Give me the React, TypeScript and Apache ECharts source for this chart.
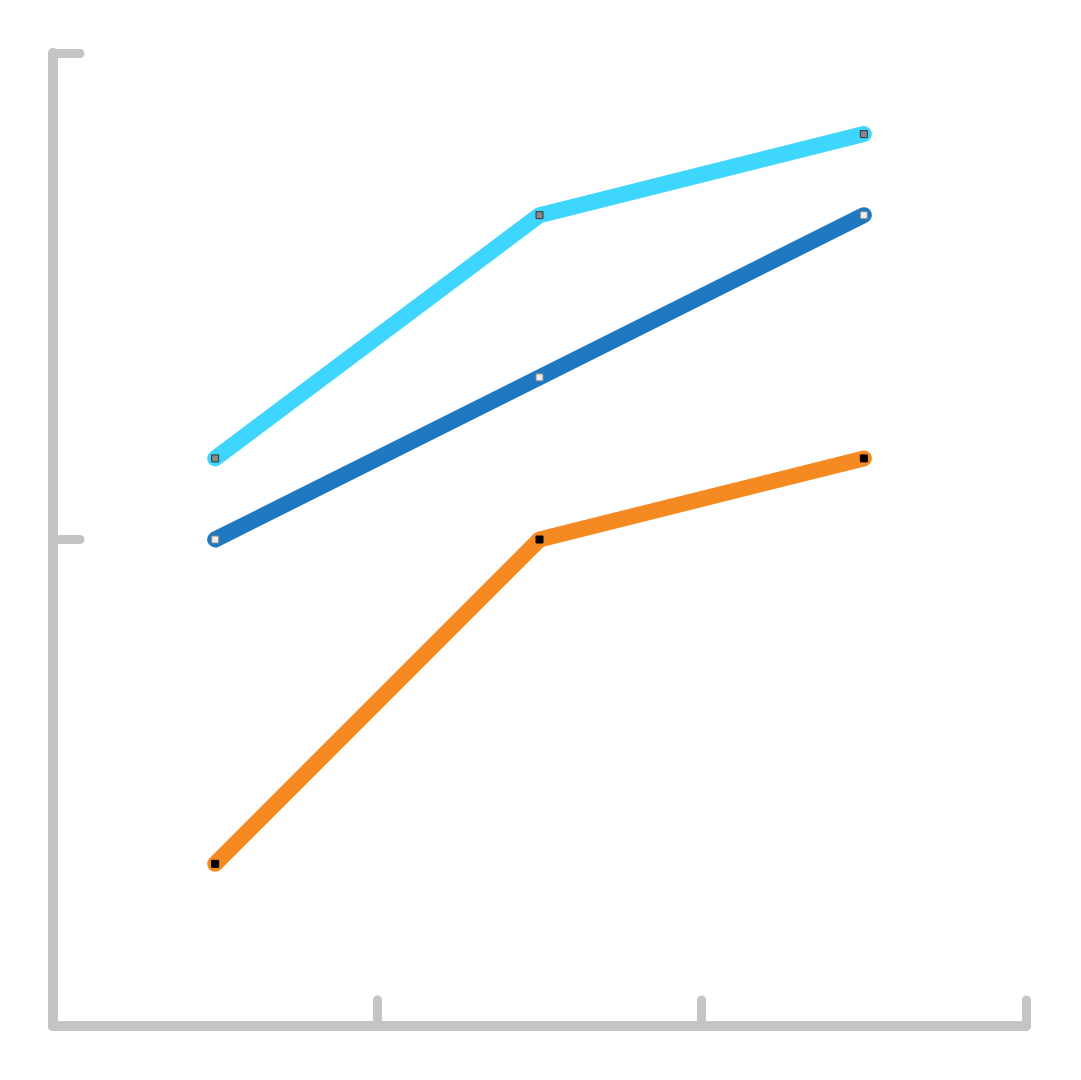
import { useEffect, useRef } from "react";
import * as echarts from "echarts";

const categories = ["A", "B", "C"];
const lightBlueValues = [7, 10, 11];
const darkBlueValues = [6, 8, 10];
const orangeValues = [2, 6, 7];
const yTicks = { min: 0, max: 12, interval: 6 };

const axisGray = "#c4c4c4";

function makeSeries(
  data: number[],
  lineColor: string,
  markFill: string,
  markBorder: string,
) {
  return {
    type: "line",
    data,
    symbol: "rect",
    symbolSize: 7,
    showSymbol: true,
    lineStyle: { color: lineColor, width: 16, cap: "round", join: "round" },
    itemStyle: { color: markFill, borderColor: markBorder, borderWidth: 1 },
    emphasis: { disabled: true },
  };
}

export default function App() {
  const containerRef = useRef<HTMLDivElement | null>(null);

  useEffect(() => {
    const container = containerRef.current;
    if (!container) {
      return;
    }
    const chart = echarts.init(container, null, { renderer: "svg" });

    chart.setOption({
      animation: false,
      backgroundColor: "#ffffff",
      grid: { left: 53, top: 53, right: 55, bottom: 54 },
      xAxis: {
        type: "category",
        data: categories,
        boundaryGap: true,
        axisLine: {
          show: true,
          lineStyle: { color: axisGray, width: 10, cap: "round" },
        },
        axisTick: {
          show: true,
          interval: 0,
          inside: true,
          length: 26,
          alignWithLabel: false,
          lineStyle: { color: axisGray, width: 9, cap: "round" },
        },
        axisLabel: { show: false, interval: 0 },
        splitLine: { show: false },
      },
      yAxis: {
        type: "value",
        min: yTicks.min,
        max: yTicks.max,
        interval: yTicks.interval,
        axisLine: {
          show: true,
          lineStyle: { color: axisGray, width: 10, cap: "round" },
        },
        axisTick: {
          show: true,
          inside: true,
          length: 27,
          lineStyle: { color: axisGray, width: 9, cap: "round" },
        },
        axisLabel: { show: false },
        splitLine: { show: false },
      },
      series: [
        makeSeries(lightBlueValues, "#3ed5ff", "#888888", "#333333"),
        makeSeries(darkBlueValues, "#1f78c0", "#eeeeee", "#888888"),
        makeSeries(orangeValues, "#f58a22", "#000000", "#000000"),
      ],
    });

    return () => {
      chart.dispose();
    };
  }, []);

  return (
    <div
      ref={containerRef}
      style={{ position: "fixed", left: 0, top: 0, width: 1081, height: 1080 }}
    />
  );
}
